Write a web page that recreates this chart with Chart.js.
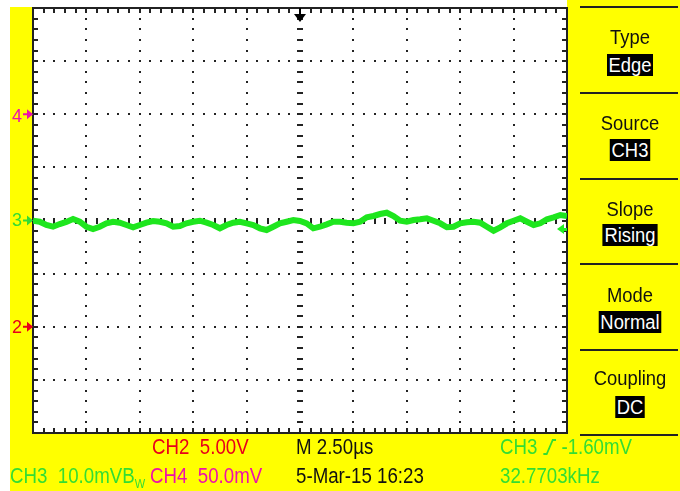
<!DOCTYPE html>
<html>
<head>
<meta charset="utf-8">
<script src="https://cdn.jsdelivr.net/npm/chart.js@4"></script>
<style>
  body { margin: 0; background: #fff; }
  #scope { position: relative; width: 680px; height: 491px; overflow: hidden;
    font-family: "Liberation Sans", Arial, sans-serif; }
  .yel { position: absolute; background: #ffff00; }
  canvas { position: absolute; left: 0; top: 0; }
  .t { position: absolute; white-space: nowrap; font-size: 22px; line-height: 22px;
    transform: scaleX(0.85); transform-origin: 0 0; }
  .lbl { position: absolute; left: 580px; width: 100px; text-align: center; font-size: 20px; line-height: 20px;
    color: #111; transform: scaleX(0.92); }
  .lbl.inv span { background: #000; color: #fff; display: inline-block; height: 22px; line-height: 22px; padding: 0 2px; }
  .mk { position: absolute; left: 12px; font-size: 18px; line-height: 18px; }
  .red { color: #e8001a; } .grn { color: #33dd33; } .mag { color: #ee11aa; } .blk { color: #111; }
  svg.slope { vertical-align: -1px; }
</style>
</head>
<body>
<div id="scope">
  <div class="yel" style="left:10px;top:7px;width:23px;height:484px"></div>
  <div class="yel" style="left:10px;top:433px;width:670px;height:58px"></div>
  <div class="yel" style="left:567px;top:0;width:113px;height:491px"></div>
  <canvas id="scopeChart" width="680" height="491"></canvas>

  <div class="mk mag" style="top:107px">4</div>
  <div class="mk grn" style="top:211px">3</div>
  <div class="mk red" style="top:318px">2</div>

  <div class="lbl" style="top:27px">Type</div>
  <div class="lbl inv" style="top:54px"><span>Edge</span></div>
  <div class="lbl" style="top:113px">Source</div>
  <div class="lbl inv" style="top:139px"><span>CH3</span></div>
  <div class="lbl" style="top:199px">Slope</div>
  <div class="lbl inv" style="top:224px"><span>Rising</span></div>
  <div class="lbl" style="top:285px">Mode</div>
  <div class="lbl inv" style="top:311px"><span>Normal</span></div>
  <div class="lbl" style="top:368px">Coupling</div>
  <div class="lbl inv" style="top:396px"><span>DC</span></div>

  <div class="t red" style="left:152px;top:436px">CH2&nbsp;&nbsp;5.00V</div>
  <div class="t blk" style="left:296px;top:436px">M 2.50µs</div>
  <div class="t grn" style="left:500px;top:436px">CH3&nbsp;<svg class="slope" width="16" height="17" viewBox="0 0 16 17"><polyline points="1,16 5,16 12,2 16,2" fill="none" stroke="#33dd33" stroke-width="2"/></svg>&nbsp;-1.60mV</div>
  <div class="t grn" style="left:10px;top:465px">CH3&nbsp;&nbsp;10.0mVB<span style="font-size:13px;position:relative;top:5px">W</span></div>
  <div class="t mag" style="left:150px;top:465px">CH4&nbsp;&nbsp;50.0mV</div>
  <div class="t blk" style="left:296px;top:465px">5-Mar-15 16:23</div>
  <div class="t grn" style="left:500px;top:465px">32.7703kHz</div>
</div>
<script>
// CH3 trace, 10.0 mV/div, 2.50 us/div, sampled every 1/8 division
const startUs = -12.5;
const stepUs = 0.3125;
const ch3mV = [
  -0.04, -0.23, -0.85, -1.17, -0.66, -0.28, 0.28, -0.23, -1.17, -1.60,
  -1.17, -0.53, -0.23, -0.41, -0.85, -1.28, -0.85, -0.41, -0.09, -0.23,
  -0.53, -1.17, -1.04, -0.53, -0.23, -0.04, -0.41, -0.85, -1.47, -0.85,
  -0.41, -0.23, -0.53, -0.85, -1.47, -1.79, -1.17, -0.53, -0.23, 0.09,
  -0.09, -0.53, -1.47, -1.17, -0.72, -0.23, -0.23, -0.41, -0.53, -0.23,
  0.60, 0.85, 1.22, 1.47, 0.85, -0.04, -0.23, 0.09, 0.23, 0.41,
  -0.04, -0.53, -1.28, -1.17, -0.53, -0.34, -0.23, -0.41, -1.17, -1.92,
  -1.28, -0.53, -0.04, 0.41, -0.23, -0.85, -0.53, 0.23, 0.60, 1.04,
  0.85
];
const xRange = [-12.5, 12.5];   // 10 divisions
const yRange = [-40, 40];       // 8 divisions
const triggerLevel = -1.60;
const channelOffsets = [20, 0, -20]; // CH4, CH3, CH2 ground markers (mV on CH3 scale)
const markerColors = ['#ee11aa', '#33dd33', '#e8001a'];

const points = ch3mV.map((v, i) => ({ x: startUs + i * stepUs, y: v }));

const scopeGrid = {
  id: 'scopeGrid',
  beforeDatasetsDraw(chart) {
    const { ctx, chartArea: a, scales: { x, y } } = chart;
    ctx.save();
    ctx.fillStyle = '#fff';
    ctx.fillRect(a.left, a.top, a.right - a.left, a.bottom - a.top);
    ctx.fillStyle = '#222';
    const xDiv = (x.getPixelForValue(2.5) - x.getPixelForValue(0));
    const yDiv = (y.getPixelForValue(0) - y.getPixelForValue(10));
    const cx = x.getPixelForValue(0), cy = y.getPixelForValue(0);
    // dotted graticule
    for (let i = 1; i < 10; i++) {
      if (i === 5) continue;
      const gx = a.left + i * xDiv;
      for (let j = 1; j < 40; j++) ctx.fillRect(Math.round(gx) - 1, Math.round(a.top + j * yDiv / 5) - 1, 2, 2);
    }
    for (let j = 1; j < 8; j++) {
      if (j === 4) continue;
      const gy = a.top + j * yDiv;
      for (let i = 1; i < 50; i++) ctx.fillRect(Math.round(a.left + i * xDiv / 5) - 1, Math.round(gy) - 1, 2, 2);
    }
    // centre axes with minor ticks
    for (let j = 1; j < 40; j++) ctx.fillRect(Math.round(cx) - 3, Math.round(a.top + j * yDiv / 5) - 1, 6, 2);
    for (let i = 1; i < 50; i++) ctx.fillRect(Math.round(a.left + i * xDiv / 5) - 1, Math.round(cy) - 3, 2, 6);
    // border ticks
    for (let i = 1; i < 50; i++) {
      const tx = Math.round(a.left + i * xDiv / 5) - 1;
      ctx.fillRect(tx, a.top, 2, 5);
      ctx.fillRect(tx, a.bottom - 5, 2, 5);
    }
    for (let j = 1; j < 40; j++) {
      const ty = Math.round(a.top + j * yDiv / 5) - 1;
      ctx.fillRect(a.left, ty, 5, 2);
      ctx.fillRect(a.right - 5, ty, 5, 2);
    }
    ctx.strokeStyle = '#222';
    ctx.lineWidth = 2;
    ctx.strokeRect(a.left, a.top, a.right - a.left, a.bottom - a.top);
    // right panel separators
    [7, 93, 179, 264, 350, 435].forEach(sy => ctx.fillRect(580, sy - 1, 98, 2));
    // trigger position arrow
    ctx.fillStyle = '#000';
    ctx.fillRect(cx - 1, a.top, 2, 9);
    ctx.beginPath();
    ctx.moveTo(cx - 6, a.top + 6); ctx.lineTo(cx + 6, a.top + 6); ctx.lineTo(cx, a.top + 14);
    ctx.closePath(); ctx.fill();
    // channel ground markers
    channelOffsets.forEach((v, k) => {
      const my = y.getPixelForValue(v);
      ctx.fillStyle = markerColors[k];
      ctx.fillRect(a.left - 10, my - 1, 9, 2);
      ctx.beginPath();
      ctx.moveTo(a.left - 6, my - 5); ctx.lineTo(a.left, my); ctx.lineTo(a.left - 6, my + 5);
      ctx.closePath(); ctx.fill();
    });
    ctx.restore();
  },
  afterDatasetsDraw(chart) {
    const { ctx, chartArea: a, scales: { y } } = chart;
    const ty = y.getPixelForValue(triggerLevel);
    ctx.save();
    ctx.fillStyle = '#22ee22';
    ctx.beginPath();
    ctx.moveTo(a.right - 10, ty); ctx.lineTo(a.right - 3, ty - 5); ctx.lineTo(a.right - 3, ty + 5);
    ctx.closePath(); ctx.fill();
    ctx.fillRect(a.right - 4, ty - 1, 4, 3);
    ctx.restore();
  }
};

new Chart(document.getElementById('scopeChart').getContext('2d'), {
  type: 'line',
  data: {
    datasets: [{
      label: 'CH3',
      data: points,
      borderColor: '#1ee61e',
      borderWidth: 6,
      borderJoinStyle: 'miter',
      pointRadius: 0,
      tension: 0
    }]
  },
  options: {
    responsive: false,
    animation: false,
    layout: { padding: { left: 33, top: 8, right: 113, bottom: 58 } },
    scales: {
      x: { type: 'linear', min: xRange[0], max: xRange[1], display: false },
      y: { min: yRange[0], max: yRange[1], display: false }
    },
    plugins: { legend: { display: false }, tooltip: { enabled: false } }
  },
  plugins: [scopeGrid]
});
</script>
</body>
</html>
